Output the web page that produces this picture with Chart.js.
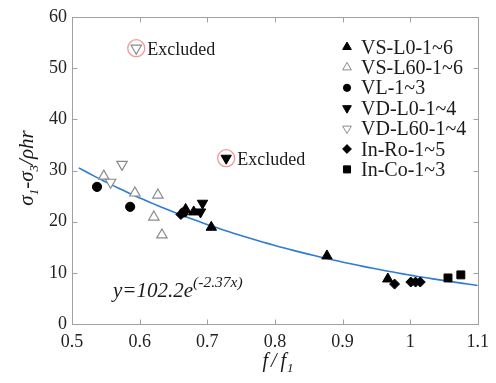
<!DOCTYPE html>
<html>
<head>
<meta charset="utf-8">
<script src="https://cdn.jsdelivr.net/npm/chart.js@4.4.1/dist/chart.umd.min.js"></script>
<style>
  html, body { margin: 0; padding: 0; background: #fff; }
  #wrap { width: 496px; height: 383px; }
</style>
</head>
<body>
<div id="wrap"><canvas id="c" width="496" height="383"></canvas></div>
<script>
// Axis ticks
const xTicks = [0.5, 0.6, 0.7, 0.8, 0.9, 1.0, 1.1];
const yTicks = [0, 10, 20, 30, 40, 50, 60];

// Specimen groups: [f/f1, (σ1-σ3)/ρhr]
const vsL0  = [[0.668, 22.4], [0.680, 21.9], [0.706, 18.9], [0.877, 13.3], [0.967, 8.8]];
const vsL60 = [[0.547, 28.9], [0.593, 25.6], [0.627, 25.2], [0.621, 20.9], [0.633, 17.4]];
const vl    = [[0.537, 26.8], [0.586, 22.9], [0.665, 21.8]];
const vdL0  = [[0.690, 21.9], [0.693, 23.6], [0.728, 32.4]];
const vdL60 = [[0.557, 27.7], [0.574, 31.2], [0.595, 53.9]];
const inRo  = [[0.661, 21.4], [0.977, 7.8], [1.001, 8.2], [1.008, 8.2], [1.015, 8.2]];
const inCo  = [[1.056, 9.0], [1.075, 9.6]];

// Points left out of the regression
const excluded = [[0.595, 53.9], [0.728, 32.4]];

// Exponential fit y = a·e^(b·x)
const fitA = 102.2;
const fitB = -2.37;
const fitFrom = 0.51;
const fitTo = 1.1;

const seriesNames = ['VS-L0-1~6', 'VS-L60-1~6', 'VL-1~3', 'VD-L0-1~4', 'VD-L60-1~4', 'In-Ro-1~5', 'In-Co-1~3'];

const toXY = arr => arr.map(p => ({ x: p[0], y: p[1] }));

const fitPts = [];
for (let i = 0; i <= 80; i++) {
  const x = fitFrom + (fitTo - fitFrom) * i / 80;
  fitPts.push({ x, y: fitA * Math.exp(fitB * x) });
}

const BLACK = '#000000';
const GREY = '#8a8a8a';
const FRAME = '#a0a0a0';
const SERIF = '"Liberation Serif", "DejaVu Serif", serif';

function markerDs(label, data, style, opts) {
  return Object.assign({
    label, data: toXY(data), showLine: false,
    pointStyle: style, pointRotation: 0,
    pointRadius: 6, pointHoverRadius: 6,
    pointBackgroundColor: BLACK, pointBorderColor: BLACK, pointBorderWidth: 1
  }, opts || {});
}

const datasets = [
  markerDs('Excluded', excluded, 'circle', { pointRadius: 8.5, pointHoverRadius: 8.5, pointBackgroundColor: 'rgba(0,0,0,0)', pointBorderColor: '#f29a9a', pointBorderWidth: 1.3 }),
  markerDs(seriesNames[6], inCo, 'rect', { pointRadius: 5.6, pointHoverRadius: 5.6 }),
  markerDs(seriesNames[5], inRo, 'rectRot', { pointRadius: 5, pointHoverRadius: 5 }),
  markerDs(seriesNames[4], vdL60, 'triangle', { pointRotation: 180, pointRadius: 6, pointBackgroundColor: '#ffffff', pointBorderColor: GREY, pointBorderWidth: 1.2 }),
  markerDs(seriesNames[3], vdL0, 'triangle', { pointRotation: 180, pointRadius: 6 }),
  markerDs(seriesNames[2], vl, 'circle', { pointRadius: 4.6, pointHoverRadius: 4.6 }),
  markerDs(seriesNames[1], vsL60, 'triangle', { pointRadius: 6, pointBackgroundColor: '#ffffff', pointBorderColor: GREY, pointBorderWidth: 1.2 }),
  markerDs(seriesNames[0], vsL0, 'triangle', { pointRadius: 6 }),
  {
    label: 'fit', data: fitPts, showLine: true, pointRadius: 0, pointHoverRadius: 0,
    borderColor: '#2f7cd0', borderWidth: 1.6, tension: 0, fill: false
  }
];

// Legend entries, drawn inside the plot in the same styles as the markers
const legendItems = [
  { name: seriesNames[0], style: 'triangle', rot: 0, r: 5, fill: BLACK, stroke: BLACK },
  { name: seriesNames[1], style: 'triangle', rot: 0, r: 5, fill: '#ffffff', stroke: GREY },
  { name: seriesNames[2], style: 'circle', rot: 0, r: 3.6, fill: BLACK, stroke: BLACK },
  { name: seriesNames[3], style: 'triangle', rot: 180, r: 5, fill: BLACK, stroke: BLACK },
  { name: seriesNames[4], style: 'triangle', rot: 180, r: 5, fill: '#ffffff', stroke: GREY },
  { name: seriesNames[5], style: 'rectRot', rot: 0, r: 4.4, fill: BLACK, stroke: BLACK },
  { name: seriesNames[6], style: 'rect', rot: 0, r: 5, fill: BLACK, stroke: BLACK }
];

// Draws a run of text pieces (with sub/superscripts) starting at x along the baseline
function drawRuns(ctx, runs, x, y, align) {
  let total = 0;
  runs.forEach(r => { ctx.font = r.font; r.w = ctx.measureText(r.t).width; total += r.w + (r.gap || 0); });
  let cx = align === 'center' ? x - total / 2 : x;
  runs.forEach(r => {
    ctx.font = r.font;
    ctx.fillText(r.t, cx, y + (r.dy || 0));
    cx += r.w + (r.gap || 0);
  });
}

const framePlugin = {
  id: 'frame',
  afterDatasetsDraw(chart) {
    const { ctx, chartArea: a, scales } = chart;
    ctx.save();
    ctx.strokeStyle = FRAME;
    ctx.lineWidth = 1;
    const L = Math.round(a.left) + 0.5, R = Math.round(a.right) + 0.5;
    const T = Math.round(a.top) + 0.5, B = Math.round(a.bottom) + 0.5;
    ctx.strokeRect(L, T, R - L, B - T);
    const tl = 5;
    ctx.beginPath();
    xTicks.forEach(v => {
      const px = Math.round(scales.x.getPixelForValue(v)) + 0.5;
      ctx.moveTo(px, B); ctx.lineTo(px, B - tl);
      ctx.moveTo(px, T); ctx.lineTo(px, T + tl);
    });
    yTicks.forEach(v => {
      const py = Math.round(scales.y.getPixelForValue(v)) + 0.5;
      ctx.moveTo(L, py); ctx.lineTo(L + tl, py);
      ctx.moveTo(R, py); ctx.lineTo(R - tl, py);
    });
    ctx.stroke();
    ctx.restore();
  },
  afterDraw(chart) {
    const { ctx, scales } = chart;
    ctx.save();
    ctx.fillStyle = '#1a1a1a';
    ctx.textBaseline = 'alphabetic';

    // "Excluded" notes beside the dropped points
    ctx.font = '18px ' + SERIF;
    ctx.textAlign = 'left';
    excluded.forEach(p => {
      const px = scales.x.getPixelForValue(p[0]);
      const py = scales.y.getPixelForValue(p[1]);
      ctx.fillText('Excluded', px + 11, py + 7);
    });

    // Fit equation
    const eq = [
      { t: 'y=' + fitA.toFixed(1) + 'e', font: 'italic 21px ' + SERIF },
      { t: '(' + fitB.toFixed(2) + 'x)', font: 'italic 15.5px ' + SERIF, dy: -10 }
    ];
    drawRuns(ctx, eq, 113, 297, 'left');

    // Legend
    const lx = 347, tx = 361, ly0 = 47, step = 20.4;
    legendItems.forEach((it, i) => {
      const y = ly0 + i * step;
      ctx.fillStyle = it.fill;
      ctx.strokeStyle = it.stroke;
      ctx.lineWidth = 1;
      Chart.helpers.drawPoint(ctx, { pointStyle: it.style, rotation: it.rot, radius: it.r, borderWidth: 1 }, lx, y);
      ctx.fillStyle = '#1a1a1a';
      ctx.font = '20px ' + SERIF;
      ctx.fillText(it.name, tx, y + 6.5);
    });

    // Axis titles
    const xt = [
      { t: 'f', font: 'italic 20px ' + SERIF, gap: 3 },
      { t: '/', font: 'italic 20px ' + SERIF, gap: 4 },
      { t: 'f', font: 'italic 20px ' + SERIF, gap: 1 },
      { t: '1', font: 'italic 13px ' + SERIF, dy: 5 }
    ];
    drawRuns(ctx, xt, 278, 367, 'center');

    ctx.translate(33, 168);
    ctx.rotate(-Math.PI / 2);
    const yt = [
      { t: 'σ', font: 'italic 21px ' + SERIF },
      { t: '1', font: 'italic 13px ' + SERIF, dy: 5 },
      { t: '-σ', font: 'italic 21px ' + SERIF },
      { t: '3', font: 'italic 13px ' + SERIF, dy: 5 },
      { t: '/ρhr', font: 'italic 21px ' + SERIF }
    ];
    drawRuns(ctx, yt, 0, 0, 'center');
    ctx.restore();
  }
};

const tickFont = { family: SERIF, size: 18 };

new Chart(document.getElementById('c'), {
  type: 'scatter',
  data: { datasets },
  options: {
    responsive: false,
    devicePixelRatio: 1,
    animation: false,
    events: [],
    layout: { padding: { top: 17, right: 13, left: 0, bottom: 0 } },
    plugins: { legend: { display: false }, tooltip: { enabled: false } },
    scales: {
      x: {
        type: 'linear', min: 0.5, max: 1.1,
        grid: { display: false, drawTicks: false, tickLength: 0 }, border: { display: false },
        afterBuildTicks: s => { s.ticks = xTicks.map(v => ({ value: v })); },
        afterFit: s => { s.height = 59; },
        ticks: {
          font: tickFont, color: '#222', padding: 7, maxRotation: 0, autoSkip: false,
          callback: v => String(Math.round(v * 10) / 10)
        }
      },
      y: {
        type: 'linear', min: 0, max: 60,
        grid: { display: false, drawTicks: false, tickLength: 0 }, border: { display: false },
        afterBuildTicks: s => { s.ticks = yTicks.map(v => ({ value: v })); },
        afterFit: s => { s.width = 72; },
        ticks: { font: tickFont, color: '#222', padding: 5, autoSkip: false }
      }
    }
  },
  plugins: [framePlugin]
});
</script>
</body>
</html>
